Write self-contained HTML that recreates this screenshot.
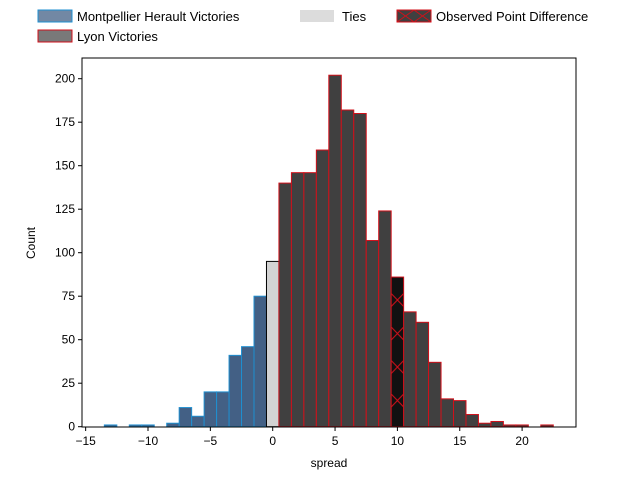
<!DOCTYPE html>
<html><head><meta charset="utf-8"><style>body{margin:0;background:#fff}svg{font-family:"Liberation Sans","DejaVu Sans",sans-serif}</style></head>
<body>
<svg id="c" width="640" height="480" xmlns="http://www.w3.org/2000/svg">
<defs><pattern id="hx" x="391.2" y="293.5" width="12.47" height="33.5" patternUnits="userSpaceOnUse"><path d="M0,0 L12.47,13 M12.47,0 L0,13" stroke="#d0101a" stroke-width="1"/></pattern></defs>
<g id="bars"></g>
<rect x="82" y="58" width="494" height="369" fill="none" stroke="#000" stroke-width="1"/>
<g id="ticks" font-size="12"></g>
<text x="329" y="467" font-size="12" text-anchor="middle">spread</text>
<text transform="translate(35,243) rotate(-90)" font-size="12" text-anchor="middle">Count</text>
<g font-size="13">
<g><rect x="38" y="10" width="34" height="12" fill="#436085" fill-opacity="0.75" stroke="#1f8fd0"/><text x="77" y="21">Montpellier Herault Victories</text></g>
<g><rect x="38" y="30" width="34" height="12" fill="#404040" fill-opacity="0.7" stroke="#d0101a"/><text x="77" y="41">Lyon Victories</text></g>
<g><rect x="300" y="10" width="34" height="12" fill="#d3d3d3" fill-opacity="0.8"/><text x="342" y="21">Ties</text></g>
<g><rect x="397" y="10" width="34" height="12" fill="#404040" stroke="#d0101a"/><path d="M397,10 L414,22 M414,10 L397,22 M414,10 L431,22 M431,10 L414,22" stroke="#d0101a"/><text x="436" y="21">Observed Point Difference</text></g>
</g>
</svg>
<script>
const spreads = [-13,-12,-11,-10,-9,-8,-7,-6,-5,-4,-3,-2,-1,0,1,2,3,4,5,6,7,8,9,10,11,12,13,14,15,16,17,18,19,20,21,22];
const counts = [1,0,1,1,0,2,11,6,20,20,41,46,75,95,140,146,146,159,202,182,180,107,124,86,66,60,37,16,15,7,2,3,1,1,0,1];
const observed = 10;
const xTicks = [-15,-10,-5,0,5,10,15,20];
const yTicks = [0,25,50,75,100,125,150,175,200];
const NS="http://www.w3.org/2000/svg";
const X=v=>272.7+(v)*12.47, Y=v=>426.7-v*1.74;
const bars=document.getElementById('bars'), ticks=document.getElementById('ticks');
spreads.forEach((s,i)=>{
  const c=counts[i]; if(!c) return;
  const r=document.createElementNS(NS,'rect');
  r.setAttribute('x',X(s-0.5)); r.setAttribute('width',12.47);
  r.setAttribute('y',Y(c)); r.setAttribute('height',Y(0)-Y(c));
  let f,st;
  if(s<0){f='#436085';st='#1f8fd0';} else if(s===0){f='#d3d3d3';st='#000';} else if(s===observed){f='#111';st='#d0101a';} else {f='#404040';st='#d0101a';}
  r.setAttribute('fill',f); r.setAttribute('stroke',st); r.setAttribute('stroke-width','1');
  
  
  bars.appendChild(r);
  if(s===observed){
    const h=document.createElementNS(NS,'rect');
    h.setAttribute('x',X(s-0.5)); h.setAttribute('width',12.47);
    h.setAttribute('y',Y(c)); h.setAttribute('height',Y(0)-Y(c));
    h.setAttribute('fill','url(#hx)');
    
    
    bars.appendChild(h);
  }
});
xTicks.forEach(t=>{
  const l=document.createElementNS(NS,'line');
  l.setAttribute('x1',X(t));l.setAttribute('x2',X(t));l.setAttribute('y1',427);l.setAttribute('y2',431);l.setAttribute('stroke','#000');
  
  
  ticks.appendChild(l);
  const tx=document.createElementNS(NS,'text');
  tx.setAttribute('x',X(t));tx.setAttribute('y',445);tx.setAttribute('text-anchor','middle');tx.textContent=t<0?'\u2212'+(-t):t;
  
  
  ticks.appendChild(tx);
});
yTicks.forEach(t=>{
  const l=document.createElementNS(NS,'line');
  l.setAttribute('x1',78);l.setAttribute('x2',82);l.setAttribute('y1',Y(t));l.setAttribute('y2',Y(t));l.setAttribute('stroke','#000');
  
  
  ticks.appendChild(l);
  const tx=document.createElementNS(NS,'text');
  tx.setAttribute('x',75);tx.setAttribute('y',Y(t)+4);tx.setAttribute('text-anchor','end');tx.textContent=t;
  
  
  ticks.appendChild(tx);
});
</script>
</body></html>
